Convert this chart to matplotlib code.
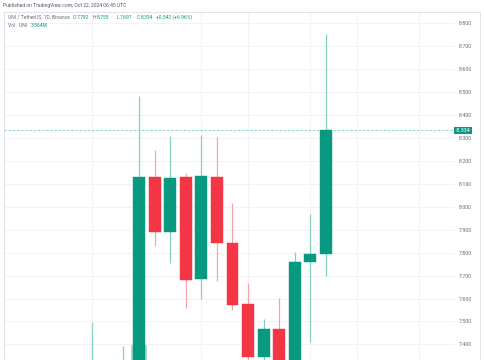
import matplotlib
matplotlib.use("Agg")
import matplotlib.pyplot as plt
from matplotlib.patches import Rectangle
from matplotlib.lines import Line2D

plt.rcParams["font.family"] = ["Roboto", "DejaVu Sans"]

# ---- data (UNI/USDT daily, October 2024) ----
days   = [7, 8, 9, 10, 11, 12, 13, 14, 15, 16, 17, 18, 19, 20, 21, 22]
opens  = [7.20, 7.28, 7.18, 7.24, 8.131, 7.891, 8.128, 7.685, 8.131, 7.843, 7.574, 7.346, 7.467, 7.31, 7.760, 7.792]
highs  = [7.499, 7.32, 7.393, 8.483, 8.247, 8.310, 8.148, 8.313, 8.303, 8.016, 7.666, 7.510, 7.601, 7.801, 7.968, 8.755]
lows   = [7.10, 7.12, 7.08, 7.20, 7.830, 7.753, 7.560, 7.596, 7.676, 7.552, 7.30, 7.30, 7.25, 7.27, 7.409, 7.697]
closes = [7.28, 7.18, 7.24, 8.131, 7.891, 8.124, 7.681, 8.134, 7.843, 7.571, 7.346, 7.467, 7.31, 7.759, 7.793, 8.334]
volumes_m = [4.1, 2.9, 3.3, 40.0, 8.2, 6.1, 5.4, 6.3, 5.2, 4.4, 4.6, 3.1, 3.8, 5.0, 3.9, 3.564]
price_ticks = [7.4, 7.5, 7.6, 7.7, 7.8, 7.9, 8.0, 8.1, 8.2, 8.3, 8.4, 8.5, 8.6, 8.7, 8.8]
date_grid_days = [7, 14, 17, 21, 24, 28]
last_price = 8.334

UP = "#089981"
DOWN = "#F23645"
UP_WICK = "#86cfc3"
DOWN_WICK = "#f6a3aa"
GRID = "#f2f3f6"
FRAME = "#e0e3eb"
TXT = "#6a6d78"

W, H = 485, 360
fig = plt.figure(figsize=(W / 100, H / 100), dpi=100)
fig.patch.set_facecolor("white")
renderer = fig.canvas.get_renderer()

def fx(px):
    return px / W

def fy(py):
    return 1 - py / H

def fit_size(text, width_px):
    t = fig.text(0, 0, text, fontsize=10)
    w = t.get_window_extent(renderer=renderer).width
    t.remove()
    return 10 * width_px / w

ax = fig.add_axes([fx(4), 0, fx(455) - fx(4), fy(12)])
ax.set_facecolor("white")
ax.set_xlim(1.335, 30.28)
ax.set_ylim(7.332, 8.849)

# grid
for d in date_grid_days:
    ax.axvline(d, color=GRID, lw=0.8, zorder=0)
for t in price_ticks:
    ax.axhline(t, color=GRID, lw=0.8, zorder=0)

# volume on twin axis (only the spike is visible in the crop)
axv = ax.twinx()
axv.set_ylim(12, 612)
axv.bar(days, volumes_m, width=1.0, color=UP, alpha=0.35, zorder=1, linewidth=0)
axv.set_axis_off()
ax.set_zorder(axv.get_zorder() + 1)
ax.patch.set_visible(False)

# candles
bw = 0.76
for d, o, h, l, c in zip(days, opens, highs, lows, closes):
    up = c >= o
    col = UP if up else DOWN
    wcol = UP_WICK if up else DOWN_WICK
    ax.plot([d, d], [l, h], color=wcol, lw=0.9, zorder=2, solid_capstyle="butt")
    ax.add_patch(Rectangle((d - bw / 2, min(o, c)), bw, abs(c - o),
                           facecolor=col, edgecolor=col, lw=0.3, zorder=3))

# last price line
ax.axhline(last_price, color="#7ccdbf", lw=0.6, ls=(0, (3, 2)), zorder=1)

# axis styling
ylab_fs = fit_size("8.800", 13.5)
for s in ax.spines.values():
    s.set_visible(False)
ax.set_xticks([])
ax.yaxis.tick_right()
ax.set_yticks(price_ticks)
ax.set_yticklabels([f"{t:.3f}" for t in price_ticks])
ax.tick_params(axis="y", length=0, pad=2.9, labelsize=ylab_fs, labelcolor=TXT)

# last price label
ax.text(1.0, last_price, f" {last_price:.3f} ", transform=ax.get_yaxis_transform(),
        ha="left", va="center", fontsize=ylab_fs, color="white", zorder=10,
        clip_on=False,
        bbox=dict(boxstyle="square,pad=0.2", facecolor=UP, edgecolor="none"))

# frame
fig.add_artist(Line2D([fx(4), fx(480)], [fy(12), fy(12)], color=FRAME, lw=0.8))
fig.add_artist(Line2D([fx(4), fx(4)], [fy(12), 0], color=FRAME, lw=0.8))
fig.add_artist(Line2D([fx(480), fx(480)], [fy(12), 0], color=FRAME, lw=0.8))

# header texts
pub = "Published on TradingView.com, Oct 22, 2024 06:45 UTC"
fs = fit_size(pub, 124)
fig.text(fx(3), fy(6), pub, fontsize=fs, color="#555862", va="center", ha="left")

def chain(segments, y):
    """segments: list of (text, color, ref_x_px, gap_px)"""
    end = 0
    for txt, color, xref, gap in segments:
        x = max(xref, end + gap)
        t = fig.text(fx(x), y, txt, fontsize=fs, color=color, va="center", ha="left")
        end = t.get_window_extent(renderer=renderer).x1

y1 = fy(17.3)
chain([
    ("UNI / TetherUS, 1D, Binance", TXT, 8, 0),
    ("O", TXT, 73, 3), ("7.792", UP, 0, 0.3),
    ("H", TXT, 93, 3), ("8.755", UP, 0, 0.3),
    ("L", TXT, 117, 3), ("7.697", UP, 0, 0.3),
    ("C", TXT, 137, 3), ("8.334", UP, 0, 0.3),
    ("+0.542 (+6.96%)", UP, 156, 3),
], y1)

y2 = fy(25.5)
chain([("Vol · UNI", TXT, 8, 0), ("3.564M", UP, 31, 3)], y2)

fig.savefig("out.png", dpi=100, facecolor="white")
